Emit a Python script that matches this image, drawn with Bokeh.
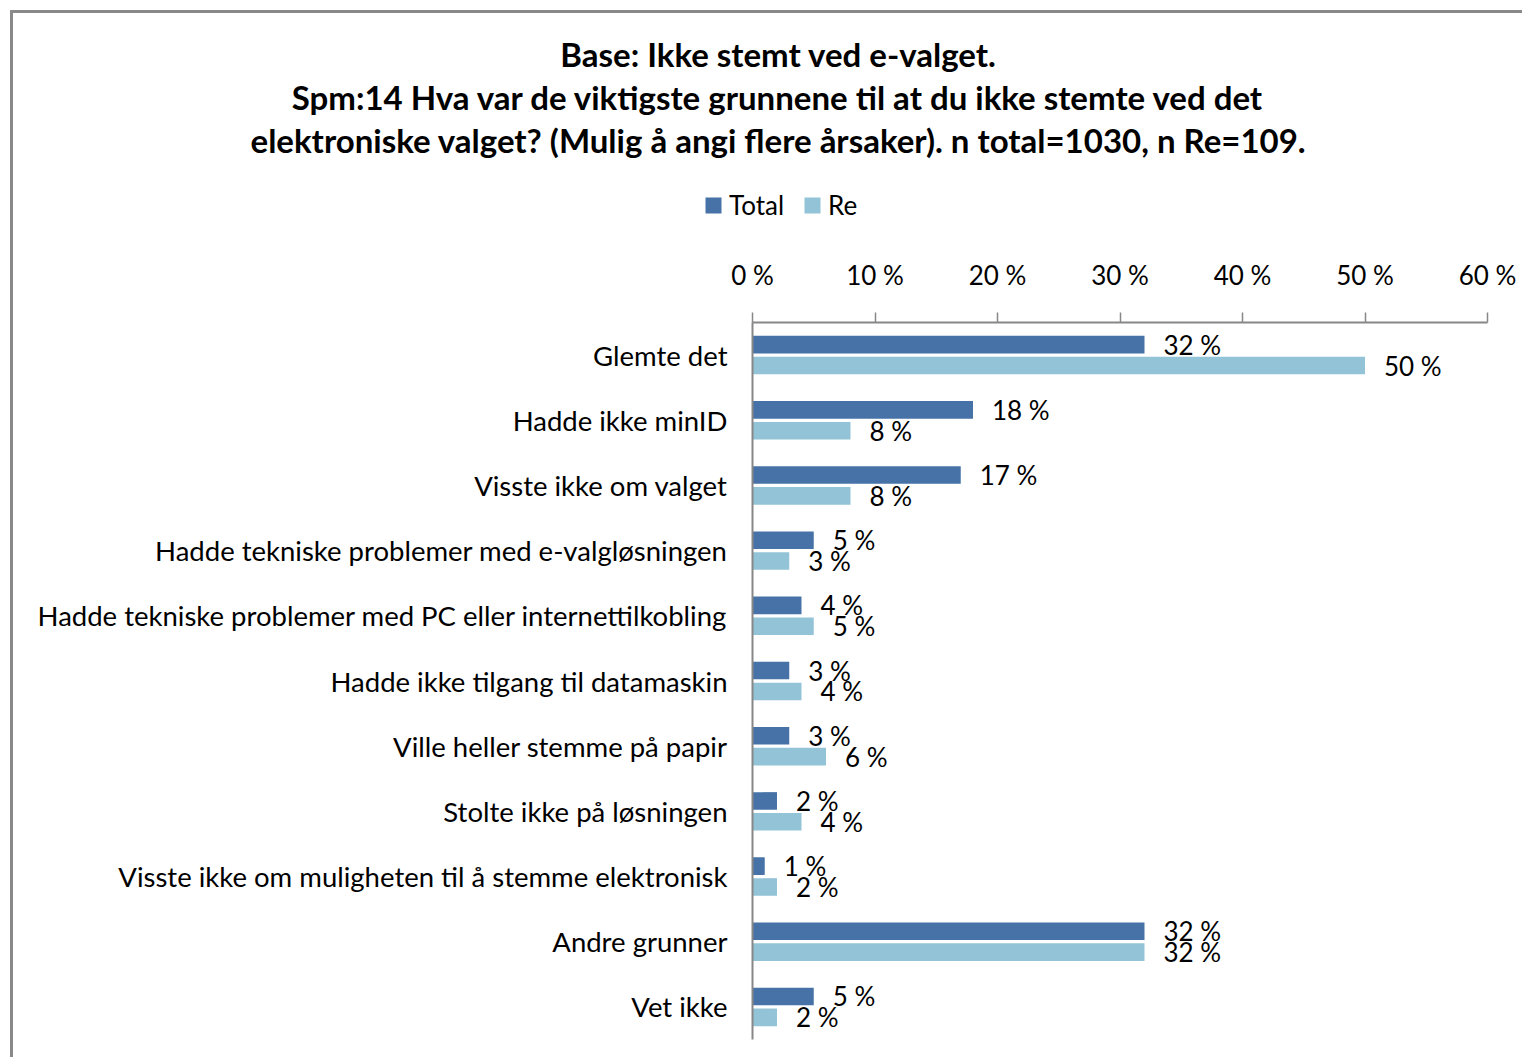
from bokeh.plotting import figure
from bokeh.models import (ColumnDataSource, FactorRange, Range1d, FixedTicker,
                          Legend, LegendItem)
from bokeh.layouts import column
from bokeh.transform import dodge
from bokeh.core.properties import value
from bokeh.embed import file_html
from bokeh.resources import INLINE

categories = [
    "Glemte det",
    "Hadde ikke minID",
    "Visste ikke om valget",
    "Hadde tekniske problemer med e-valgløsningen",
    "Hadde tekniske problemer med PC eller internettilkobling",
    "Hadde ikke tilgang til datamaskin",
    "Ville heller stemme på papir",
    "Stolte ikke på løsningen",
    "Visste ikke om muligheten til å stemme elektronisk",
    "Andre grunner",
    "Vet ikke",
]
total = [32, 18, 17, 5, 4, 3, 3, 2, 1, 32, 5]
re_vals = [50, 8, 8, 3, 5, 4, 6, 4, 2, 32, 2]
series_names = ["Total", "Re"]
ticks = [0, 10, 20, 30, 40, 50, 60]
tick_labels = ["0 %", "10 %", "20 %", "30 %", "40 %", "50 %", "60 %"]
title_lines = [
    "Base: Ikke stemt ved e-valget.",
    "Spm:14 Hva var de viktigste grunnene til at du ikke stemte ved det",
    "elektroniske valget? (Mulig å angi flere årsaker). n total=1030, n Re=109.",
]

FONT = "Lato"
C_TOTAL = "#4672A7"
C_RE = "#93C3D6"
AX = "#878787"
W = 1509
H_TOP = 222

# ---------- header (title + legend) ----------
top = figure(width=W, height=H_TOP, x_range=Range1d(0, W), y_range=Range1d(H_TOP, 0),
             output_backend="svg", toolbar_location=None,
             min_border=0, min_border_left=0, min_border_right=0,
             min_border_top=0, min_border_bottom=0)
top.frame_align = False
top.axis.visible = False
top.xgrid.grid_line_color = None
top.ygrid.grid_line_color = None
top.outline_line_color = None
top.background_fill_color = "white"
top.border_fill_color = "white"

title_src = ColumnDataSource(dict(txt=title_lines, x=[765] * 3, y=[40, 83, 126]))
top.text(x="x", y="y", text="txt", source=title_src, text_align="center",
         text_baseline="middle", text_font=value(FONT), text_font_style="bold",
         text_font_size="33px", text_color="black")

# zero-size proxy bars used only for the legend swatches
proxy = ColumnDataSource(dict(y=[0], right=[0]))
lg_total = top.hbar(y="y", right="right", height=0, source=proxy,
                    fill_color=C_TOTAL, line_color=None)
lg_re = top.hbar(y="y", right="right", height=0, source=proxy,
                 fill_color=C_RE, line_color=None)
legend = Legend(
    items=[LegendItem(label=series_names[0], renderers=[lg_total]),
           LegendItem(label=series_names[1], renderers=[lg_re])],
    location=(690, 14), orientation="horizontal",
    glyph_width=20, glyph_height=20, label_standoff=6, spacing=18,
    padding=0, margin=0, border_line_color=None, background_fill_alpha=0,
    label_text_font=FONT, label_text_font_size="26px", label_text_color="black",
)
top.add_layout(legend, "center")

# ---------- main chart ----------
src = ColumnDataSource(dict(
    cat=categories,
    total=total,
    re=re_vals,
    total_lbl=[f"{v} %" for v in total],
    re_lbl=[f"{v} %" for v in re_vals],
))

p = figure(
    width=W, height=822,
    y_range=FactorRange(*list(reversed(categories))),
    x_range=Range1d(0, 60),
    x_axis_location="above",
    output_backend="svg", toolbar_location=None,
    min_border_left=739, min_border_right=35,
    min_border_top=87, min_border_bottom=18,
)
p.frame_align = False
p.outline_line_color = None
p.xgrid.grid_line_color = None
p.ygrid.grid_line_color = None
p.background_fill_color = "white"
p.border_fill_color = "white"

p.hbar(y=dodge("cat", 0.16, range=p.y_range), right="total", left=0,
       height=0.27, source=src, fill_color=C_TOTAL, line_color=None)
p.hbar(y=dodge("cat", -0.16, range=p.y_range), right="re", left=0,
       height=0.27, source=src, fill_color=C_RE, line_color=None)

p.text(x="total", y=dodge("cat", 0.16, range=p.y_range), text="total_lbl", source=src,
       x_offset=19, text_baseline="middle", text_align="left",
       text_font=value(FONT), text_font_size="26px", text_color="black")
p.text(x="re", y=dodge("cat", -0.16, range=p.y_range), text="re_lbl", source=src,
       x_offset=19, text_baseline="middle", text_align="left",
       text_font=value(FONT), text_font_size="26px", text_color="black")

xa = p.xaxis[0]
xa.ticker = FixedTicker(ticks=ticks)
xa.major_label_overrides = {t: l for t, l in zip(ticks, tick_labels)}
xa.major_label_text_font = FONT
xa.major_label_text_font_size = "26px"
xa.major_label_text_color = "black"
xa.major_label_standoff = 22
xa.major_tick_out = 10
xa.major_tick_in = 0
xa.minor_tick_line_color = None
xa.axis_line_color = AX
xa.axis_line_width = 2
xa.major_tick_line_color = AX
xa.major_tick_line_width = 1.5

ya = p.yaxis[0]
ya.major_label_text_font = FONT
ya.major_label_text_font_size = "27.5px"
ya.major_label_text_color = "black"
ya.major_label_standoff = 25
ya.major_tick_line_color = None
ya.major_tick_out = 0
ya.axis_line_color = AX
ya.axis_line_width = 2

layout = column(top, p, spacing=0)
layout.styles = {"margin-left": "10px", "margin-top": "10px",
                 "border-left": "3px solid #898989", "border-top": "3px solid #898989"}

open("out.html", "w").write(file_html(layout, INLINE))
